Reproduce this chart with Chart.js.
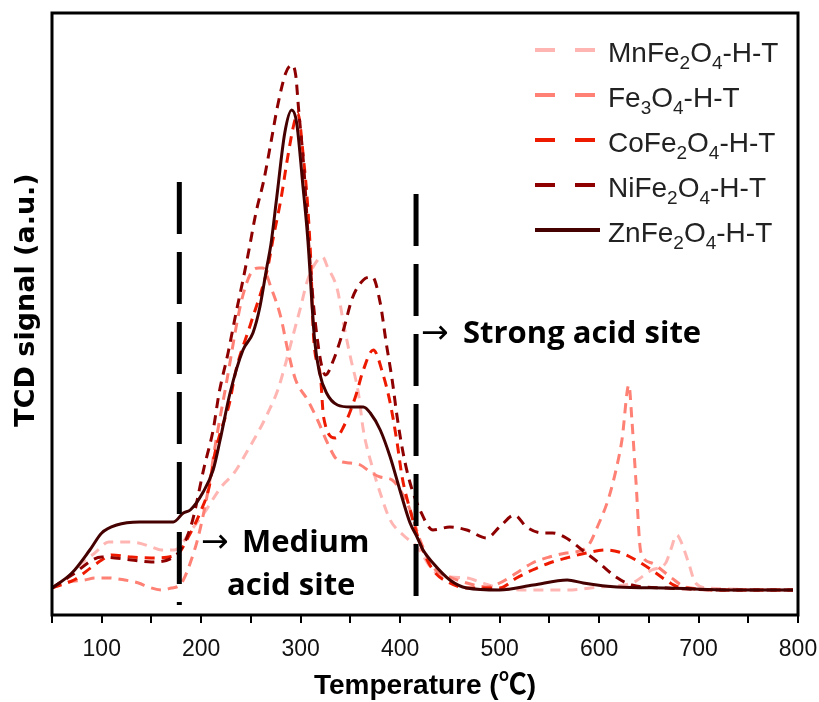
<!DOCTYPE html>
<html>
<head>
<meta charset="utf-8">
<script src="https://cdn.jsdelivr.net/npm/chart.js@4.4.1/dist/chart.umd.min.js"></script>
<style>
  body { margin: 0; background: #fff; }
  canvas { display: block; }
</style>
</head>
<body>
<canvas id="tpd" width="819" height="702"></canvas>
<script>
// Temperatures (°C) and TCD signal (a.u.)
const mnTemp = [50,65,80,93,107,123,137,150,160,173,190,203,220,233,247,260,267,277,285,293,300,307,317,322,327,337,343,350,358,363,372,380,390,403,417,433,450,467,483,500,533,567,600,633,653,667,672,678,683,690,697,710,795];
const mnSignal = [27,37,52,62,73,73,72,68,65,65,85,102,128,142,165,188,202,225,252,282,308,335,355,358,348,325,292,258,222,185,148,122,95,80,68,45,38,37,32,27,25,25,28,32,45,52,65,80,72,52,32,27,25];

const feTemp = [50,65,83,93,107,123,137,147,160,170,177,182,190,197,207,215,225,240,250,258,262,270,280,287,295,307,317,327,337,350,360,370,380,392,400,410,420,433,450,467,487,500,517,533,550,567,587,600,610,617,623,630,633,637,642,653,663,673,687,730,795];
const feSignal = [27,33,35,37,37,35,32,28,25,27,29,35,55,78,125,175,230,312,342,347,347,328,298,265,235,215,195,172,155,152,150,143,138,135,125,105,75,48,38,32,28,32,42,52,58,62,67,92,118,145,175,230,195,135,63,52,45,37,28,25,25];

const coTemp = [50,72,90,100,110,130,150,175,187,200,208,213,220,228,235,250,267,272,280,287,293,297,303,307,310,313,320,323,335,343,355,363,373,383,390,397,402,410,420,433,450,467,500,517,533,550,567,587,607,620,637,653,667,680,730,795];
const coSignal = [27,35,48,55,60,58,57,60,78,105,128,158,185,210,245,292,348,375,415,458,490,502,455,410,358,278,238,198,177,188,218,245,265,240,212,172,138,105,72,45,32,27,27,37,45,52,57,62,65,63,55,45,35,28,25,25];

const niTemp = [50,70,100,130,150,175,190,203,212,218,227,235,242,248,255,263,270,277,285,291,295,298,303,308,315,325,333,343,352,363,372,380,386,392,397,403,410,420,433,450,467,487,500,515,527,543,553,567,583,600,617,633,667,730,795];
const niSignal = [27,40,58,55,53,60,90,148,185,222,262,302,335,365,402,435,472,510,542,550,540,505,450,372,290,240,255,285,317,335,338,312,272,235,198,162,132,105,85,88,85,77,88,100,88,82,82,77,65,52,38,30,27,25,25];

const znTemp = [50,70,88,100,115,138,172,182,189,202,212,219,229,242,252,259,266,270,276,284,291,296,302,307,314,319,326,337,350,363,370,380,390,400,410,417,423,433,450,467,500,534,568,584,618,668,735,795];
const znSignal = [27,42,65,82,90,93,93,102,105,123,145,175,222,265,282,308,348,370,418,482,505,492,432,378,275,242,222,210,208,208,202,185,158,124,92,78,65,52,35,27,25,30,35,32,28,27,25,25];

// boundaries between acid-site regions
const mediumBound = 178;
const strongBound = 416;

const xTicks = [100,200,300,400,500,600,700,800];

function toPoints(xs, ys) {
  return xs.map((x, i) => ({ x: x, y: ys[i] }));
}

const series = [
  { label: 'MnFe2O4-H-T', parts: ['MnFe', '2', 'O', '4', '-H-T'], temp: mnTemp, sig: mnSignal, color: '#FFB6B3', dash: [10, 7], order: 5 },
  { label: 'Fe3O4-H-T', parts: ['Fe', '3', 'O', '4', '-H-T'], temp: feTemp, sig: feSignal, color: '#FF8074', dash: [10, 7], order: 4 },
  { label: 'CoFe2O4-H-T', parts: ['CoFe', '2', 'O', '4', '-H-T'], temp: coTemp, sig: coSignal, color: '#EE1A00', dash: [10, 7], order: 3 },
  { label: 'NiFe2O4-H-T', parts: ['NiFe', '2', 'O', '4', '-H-T'], temp: niTemp, sig: niSignal, color: '#8E0000', dash: [10, 7], order: 2 },
  { label: 'ZnFe2O4-H-T', parts: ['ZnFe', '2', 'O', '4', '-H-T'], temp: znTemp, sig: znSignal, color: '#450000', dash: [], order: 1 }
];

const datasets = series.map(s => ({
  label: s.label,
  data: toPoints(s.temp, s.sig),
  borderColor: s.color,
  borderWidth: 3,
  borderDash: s.dash,
  pointRadius: 0,
  cubicInterpolationMode: 'monotone',
  order: s.order
}));

// the two dashed black boundary lines
datasets.push({
  label: 'bound1', data: [{ x: mediumBound, y: 433 }, { x: mediumBound, y: 10 }],
  borderColor: '#000', borderWidth: 5, borderDash: [52, 18], borderCapStyle: 'butt', pointRadius: 0, order: 0
});
datasets.push({
  label: 'bound2', data: [{ x: strongBound, y: 421 }, { x: strongBound, y: 18 }],
  borderColor: '#000', borderWidth: 5, borderDash: [52, 18], borderCapStyle: 'butt', pointRadius: 0, order: 0
});

// frame, y title, legend with subscripts and the region labels
const extras = {
  id: 'extras',
  afterDraw(chart) {
    const ctx = chart.ctx;
    const a = chart.chartArea;
    ctx.save();
    ctx.strokeStyle = '#000';
    ctx.lineWidth = 3;
    ctx.strokeRect(a.left, a.top, a.right - a.left, a.bottom - a.top);

    // y axis title
    ctx.save();
    ctx.translate(27, 300);
    ctx.rotate(-Math.PI / 2);
    ctx.fillStyle = '#000';
    ctx.font = 'bold 27px "DejaVu Sans", sans-serif';
    ctx.textAlign = 'center';
    ctx.textBaseline = 'middle';
    ctx.fillText('TCD signal (a.u.)', 0, 0);
    ctx.restore();

    // legend
    const big = '28px "Liberation Sans", Arial, sans-serif';
    const small = '19px "Liberation Sans", Arial, sans-serif';
    series.forEach((s, i) => {
      const base = 62 + i * 45;
      const ly = base - 12;
      ctx.beginPath();
      ctx.strokeStyle = s.color;
      ctx.lineWidth = 4;
      ctx.setLineDash(s.dash.length ? [20, 20] : []);
      ctx.moveTo(535, ly);
      ctx.lineTo(s.dash.length ? 595 : 600, ly);
      ctx.stroke();
      ctx.setLineDash([]);
      ctx.fillStyle = '#222';
      ctx.textBaseline = 'alphabetic';
      ctx.textAlign = 'left';
      let x = 608;
      s.parts.forEach((p, k) => {
        const sub = k === 1 || k === 3;
        ctx.font = sub ? small : big;
        ctx.fillText(p, x, sub ? base + 7 : base);
        x += ctx.measureText(p).width;
      });
    });

    // region labels
    ctx.fillStyle = '#000';
    ctx.textAlign = 'left';
    ctx.textBaseline = 'alphabetic';
    ctx.font = 'bold 31px "Open Sans", "DejaVu Sans", sans-serif';
    ctx.fillText('Medium', 242, 552);
    ctx.fillText('acid site', 227, 595);
    ctx.fillText('Strong acid site', 463, 343);
    ctx.font = '33px "DejaVu Sans", sans-serif';
    ctx.fillText('\u2192', 201, 552);
    ctx.fillText('\u2192', 421, 343);
    ctx.restore();
  }
};

new Chart(document.getElementById('tpd'), {
  type: 'line',
  data: { datasets: datasets },
  options: {
    responsive: false,
    animation: false,
    layout: { padding: { top: 13, right: 21, left: 0, bottom: 0 } },
    plugins: { legend: { display: false }, tooltip: { enabled: false } },
    scales: {
      x: {
        type: 'linear',
        min: 50,
        max: 800,
        afterFit: s => { s.height = 87; s.paddingLeft = 0; s.paddingRight = 0; },
        border: { display: false },
        grid: { drawOnChartArea: false, drawTicks: true, tickLength: 8, color: '#000', lineWidth: 2 },
        ticks: {
          stepSize: 50,
          autoSkip: false,
          maxRotation: 0,
          padding: 13,
          color: '#111',
          font: { family: '"Liberation Sans Narrow", "Liberation Sans", Arial', size: 23 },
          callback: v => xTicks.includes(v) ? String(v) : ''
        },
        title: {
          display: true,
          text: 'Temperature (\u2103)',
          color: '#000',
          padding: { top: 0, bottom: 0 },
          font: { family: '"Liberation Sans", "Noto Sans CJK SC", Arial', size: 28, weight: 'bold', lineHeight: 1.1 }
        }
      },
      y: {
        min: 0,
        max: 602,
        afterFit: s => { s.width = 52; },
        border: { display: false },
        grid: { display: false },
        ticks: { display: false },
        title: { display: false }
      }
    }
  },
  plugins: [extras]
});
</script>
</body>
</html>
